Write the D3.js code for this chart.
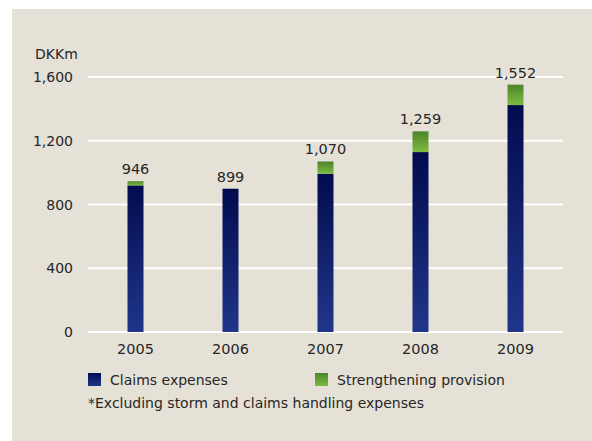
<!DOCTYPE html>
<html>
<head>
<meta charset="utf-8">
<script src="https://cdn.jsdelivr.net/npm/d3@7"></script>
<style>
  html, body { margin: 0; padding: 0; background: #ffffff; }
  svg { display: block; }
  text { font-family: "DejaVu Sans", sans-serif; fill: #262626; }
</style>
</head>
<body>
<svg id="chart" width="592" height="441"></svg>
<script>
// Claims expenses and strengthening provision, DKKm
const years = ["2005", "2006", "2007", "2008", "2009"];
const claims = [920, 899, 993, 1129, 1424];
const strengthening = [26, 0, 77, 130, 128];
const totals = [946, 899, 1070, 1259, 1552];
const yTicks = [0, 400, 800, 1200, 1600];
const seriesNames = ["Claims expenses", "Strengthening provision"];
const footnote = "*Excluding storm and claims handling expenses";
const unitLabel = "DKKm";

const svg = d3.select("#chart");
const fmt = d3.format(",");

// Panel background
svg.append("rect")
  .attr("x", 12).attr("y", 9)
  .attr("width", 580).attr("height", 432)
  .attr("fill", "#e6e1d7");

// Gradients
const defs = svg.append("defs");
const gBlue = defs.append("linearGradient").attr("id", "gradBlue")
  .attr("x1", 0).attr("y1", 0).attr("x2", 0).attr("y2", 1);
gBlue.append("stop").attr("offset", "0%").attr("stop-color", "#020b4e");
gBlue.append("stop").attr("offset", "100%").attr("stop-color", "#20368a");
const gGreen = defs.append("linearGradient").attr("id", "gradGreen")
  .attr("x1", 0).attr("y1", 0).attr("x2", 0).attr("y2", 1);
gGreen.append("stop").attr("offset", "0%").attr("stop-color", "#4b8429");
gGreen.append("stop").attr("offset", "100%").attr("stop-color", "#7dbc42");

const x = d3.scaleBand().domain(years).range([88, 563]).paddingInner(0).paddingOuter(0);
const barW = 16;
const y = d3.scaleLinear().domain([0, 1600]).range([332, 77]);

// Gridlines
svg.append("g").selectAll("line").data(yTicks).join("line")
  .attr("x1", 88).attr("x2", 563)
  .attr("y1", d => y(d)).attr("y2", d => y(d))
  .attr("stroke", "#ffffff").attr("stroke-width", 2);

// Y tick labels
svg.append("g").selectAll("text").data(yTicks).join("text")
  .attr("x", 73).attr("y", d => y(d))
  .attr("dy", "0.36em")
  .attr("text-anchor", "end")
  .attr("font-size", 14)
  .text(d => fmt(d));

svg.append("text")
  .attr("x", 35).attr("y", 59)
  .attr("font-size", 14)
  .text(unitLabel);

const cx = d => x(d) + x.bandwidth() / 2;

// Claims bars
svg.append("g").selectAll("rect").data(years).join("rect")
  .attr("x", d => cx(d) - barW / 2)
  .attr("width", barW)
  .attr("y", (d, i) => y(claims[i]))
  .attr("height", (d, i) => y(0) - y(claims[i]))
  .attr("fill", "url(#gradBlue)");

// Strengthening provision segments
svg.append("g").selectAll("rect").data(years.filter((d, i) => strengthening[i] > 0)).join("rect")
  .attr("x", d => cx(d) - barW / 2)
  .attr("width", barW)
  .attr("y", d => { const i = years.indexOf(d); return y(claims[i] + strengthening[i]); })
  .attr("height", d => { const i = years.indexOf(d); return y(claims[i]) - y(claims[i] + strengthening[i]); })
  .attr("fill", "url(#gradGreen)");

// Total labels
svg.append("g").selectAll("text").data(years).join("text")
  .attr("x", d => cx(d))
  .attr("y", (d, i) => y(totals[i]) - 7)
  .attr("text-anchor", "middle")
  .attr("font-size", 14.5)
  .text((d, i) => fmt(totals[i]));

// X labels
svg.append("g").selectAll("text").data(years).join("text")
  .attr("x", d => cx(d))
  .attr("y", 354)
  .attr("text-anchor", "middle")
  .attr("font-size", 14.5)
  .text(d => d);

// Legend
const legend = [
  { name: seriesNames[0], fill: "url(#gradBlue)", x: 88 },
  { name: seriesNames[1], fill: "url(#gradGreen)", x: 315 }
];
const lg = svg.append("g").selectAll("g").data(legend).join("g");
lg.append("rect")
  .attr("x", d => d.x).attr("y", 373)
  .attr("width", 13).attr("height", 13)
  .attr("fill", d => d.fill);
lg.append("text")
  .attr("x", d => d.x + 22).attr("y", 385)
  .attr("font-size", 14)
  .text(d => d.name);

svg.append("text")
  .attr("x", 88).attr("y", 408)
  .attr("font-size", 14)
  .text(footnote);
</script>
</body>
</html>
